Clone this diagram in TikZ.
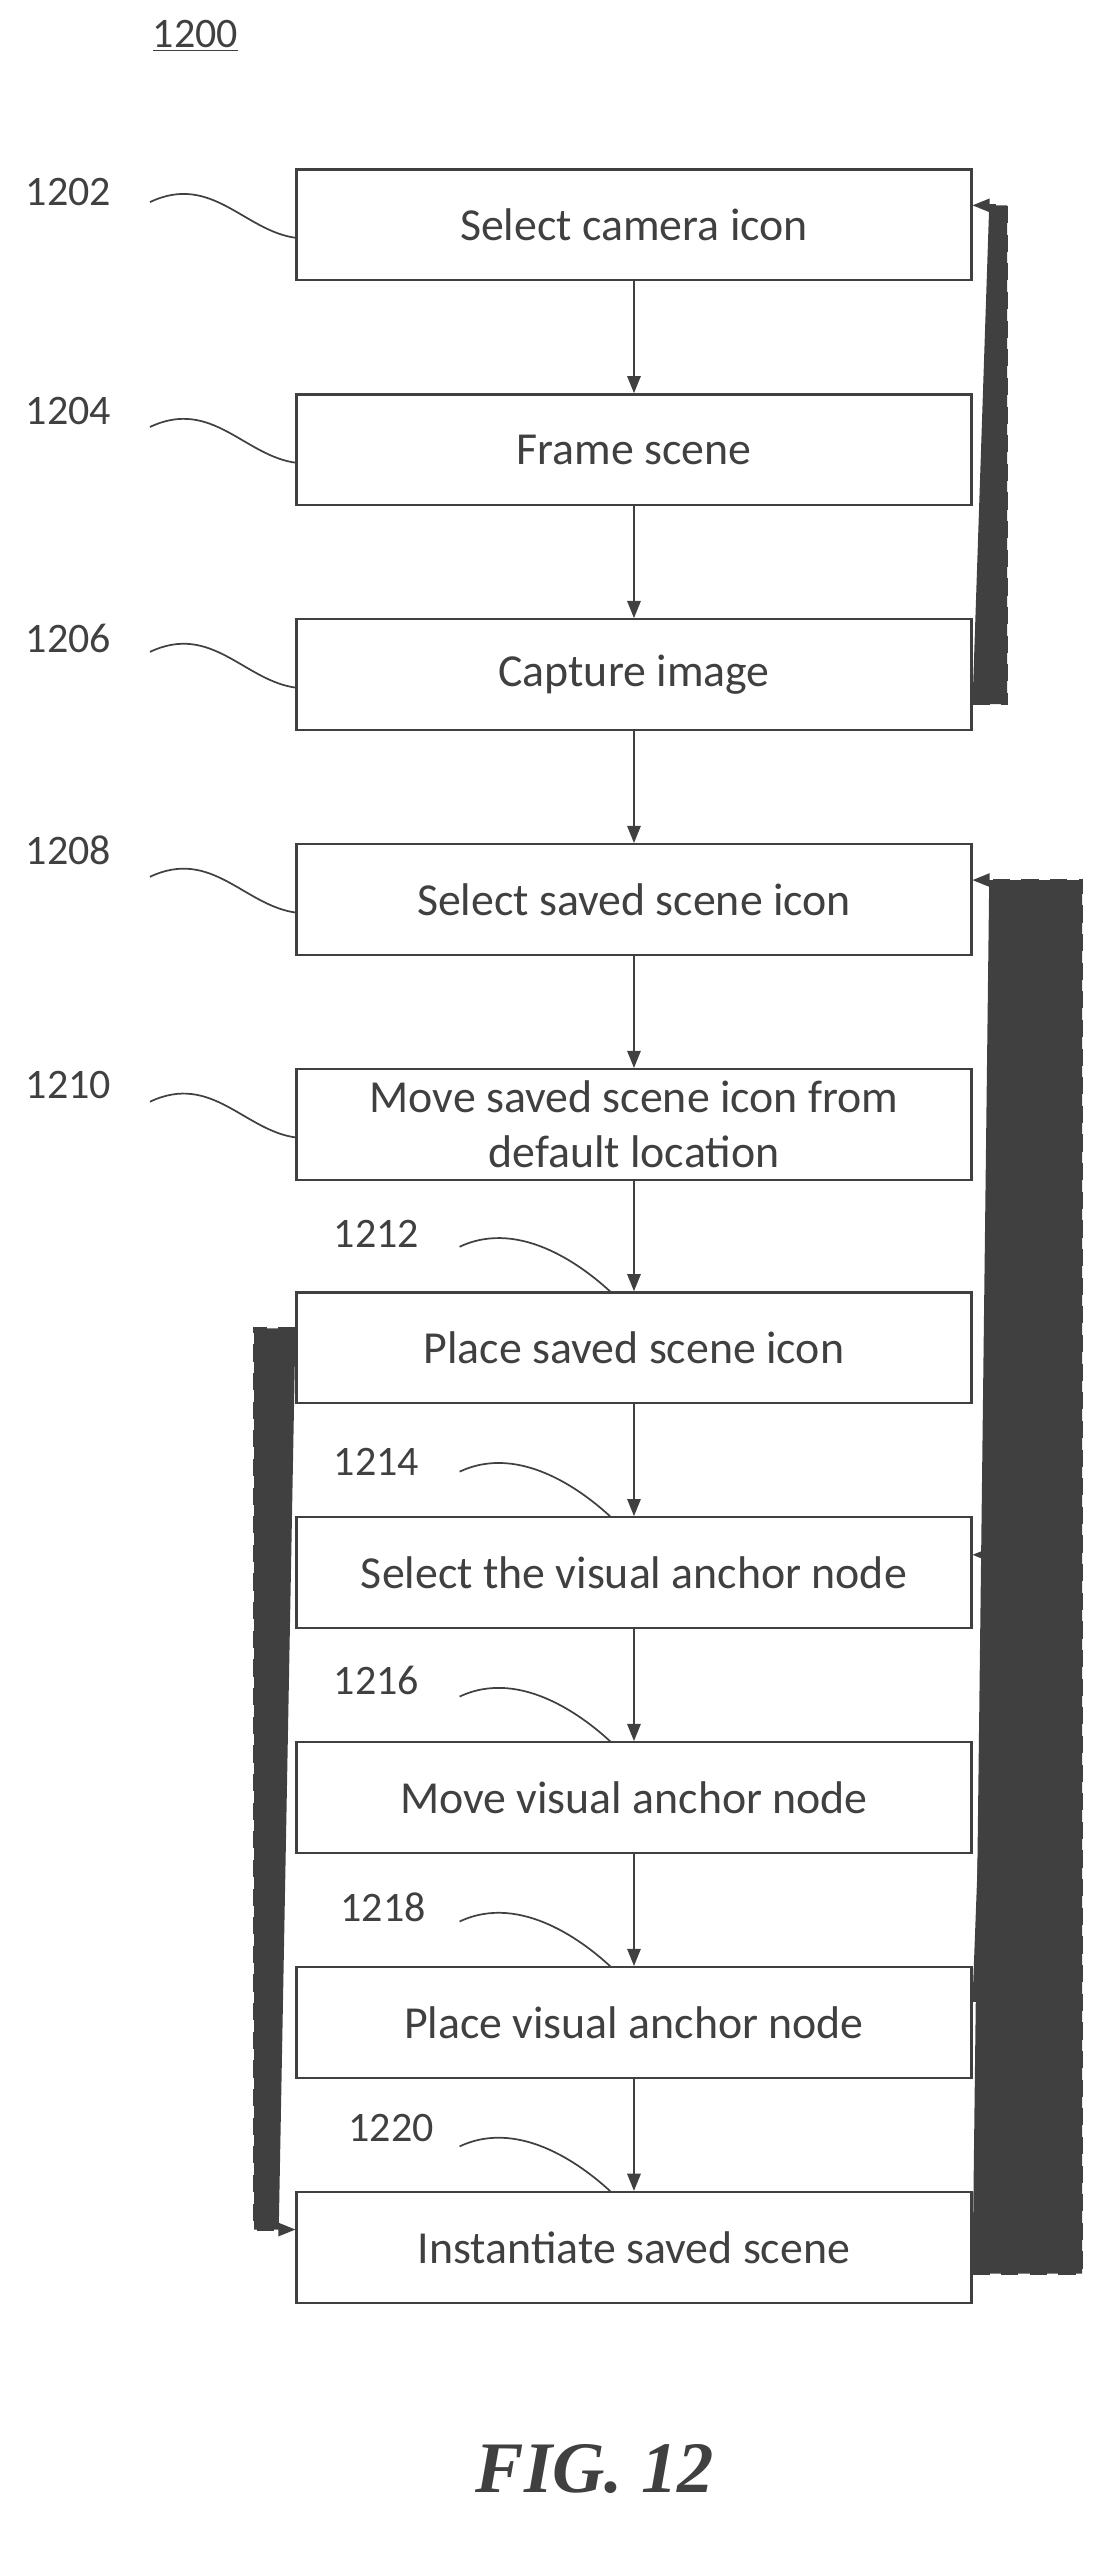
\documentclass[tikz,border=0pt]{standalone}
\usepackage{fontspec}
\setmainfont{Carlito}
\newfontfamily\figfont{Liberation Serif}
\usetikzlibrary{arrows.meta}
\definecolor{inkgray}{HTML}{404040}
\tikzset{
  stepbox/.style={draw=inkgray, line width=1.2pt, minimum width=12.42cm, minimum height=2.04cm,
    align=center, text=inkgray, font=\fontsize{24}{29}\selectfont},
  lbl/.style={text=inkgray, font=\fontsize{22}{26}\selectfont},
  flow/.style={-{Triangle[length=9pt,width=7pt]}, draw=inkgray, fill=inkgray, line width=1pt},
  back/.style={-{Triangle[length=9pt,width=7pt]}, draw=inkgray, fill=inkgray, line width=1pt, dash pattern=on 9pt off 6pt},
  wig/.style={draw=inkgray, line width=0.9pt}
}
\begin{document}
\begin{tikzpicture}[x=0.03cm,y=-0.03cm]
    \useasboundingbox (0,0) rectangle (680,1572);

    \node[lbl] (fig) at (120,22) {\underline{1200}};

    \node[stepbox] (A) at (389,138) {Select camera icon};
    \node[stepbox] (B) at (389,276) {Frame scene};
    \node[stepbox] (C) at (389,414) {Capture image};
    \node[stepbox] (D) at (389,552) {Select saved scene icon};
    \node[stepbox] (E) at (389,690) {Move saved scene icon from\\default location};
    \node[stepbox] (F) at (389,827) {Place saved scene icon};
    \node[stepbox] (G) at (389,965) {Select the visual anchor node};
    \node[stepbox] (H) at (389,1103) {Move visual anchor node};
    \node[stepbox] (I) at (389,1241) {Place visual anchor node};
    \node[stepbox] (J) at (389,1379) {Instantiate saved scene};

    % straight flow
    \draw[flow] (A) -- (B);
    \draw[flow] (B) -- (C);
    \draw[flow] (C) -- (D);
    \draw[flow] (D) -- (E);
    \draw[flow] (E) -- (F);
    \draw[flow] (F) -- (G);
    \draw[flow] (G) -- (H);
    \draw[flow] (H) -- (I);
    \draw[flow] (I) -- (J);

    % reference numbers
    \node[lbl] (nA) at (42,118) {1202};
    \node[lbl] (nB) at (42,252) {1204};
    \node[lbl] (nC) at (42,392) {1206};
    \node[lbl] (nD) at (42,522) {1208};
    \node[lbl] (nE) at (42,666) {1210};
    \node[lbl] (nF) at (231,757) {1212};
    \node[lbl] (nG) at (231,897) {1214};
    \node[lbl] (nH) at (231,1031) {1216};
    \node[lbl] (nI) at (235,1170) {1218};
    \node[lbl] (nJ) at (240,1306) {1220};

    \foreach \n/\y in {A/138,B/276,C/414,D/552,E/690}
      \draw[wig] (92,\y-14) .. controls (130,\y-32) and (150,\y+4) .. (182,\y+8);
    \foreach \n/\y in {F/827,G/965,H/1103,I/1241,J/1379}
      \draw[wig] (282,\y-62) .. controls (320,\y-80) and (360,\y-48) .. (375,\y-34);

    % feedback
    \coordinate (c1) at (618,432);
    \coordinate (c2) at (618,126);
    \draw[back] (C.east |- c1) -- (c1) -- (c2) -- (A.east |- c2);
    \coordinate (i1) at (618,1228);
    \coordinate (i2) at (618,954);
    \draw[back] (I.east |- i1) -- (i1) -- (i2) -- (G.east |- i2);
    \coordinate (j1) at (664,1395);
    \coordinate (j2) at (664,540);
    \draw[back] (J.east |- j1) -- (j1) -- (j2) -- (D.east |- j2);
    \coordinate (f1) at (156,815);
    \coordinate (f2) at (156,1368);
    \draw[back] (F.west |- f1) -- (f1) -- (f2) -- (J.west |- f2);

    \node[text=inkgray, font=\figfont\bfseries\itshape\fontsize{38}{42}\selectfont] (cap) at (365,1515) {FIG. 12};
\end{tikzpicture}
\end{document}
